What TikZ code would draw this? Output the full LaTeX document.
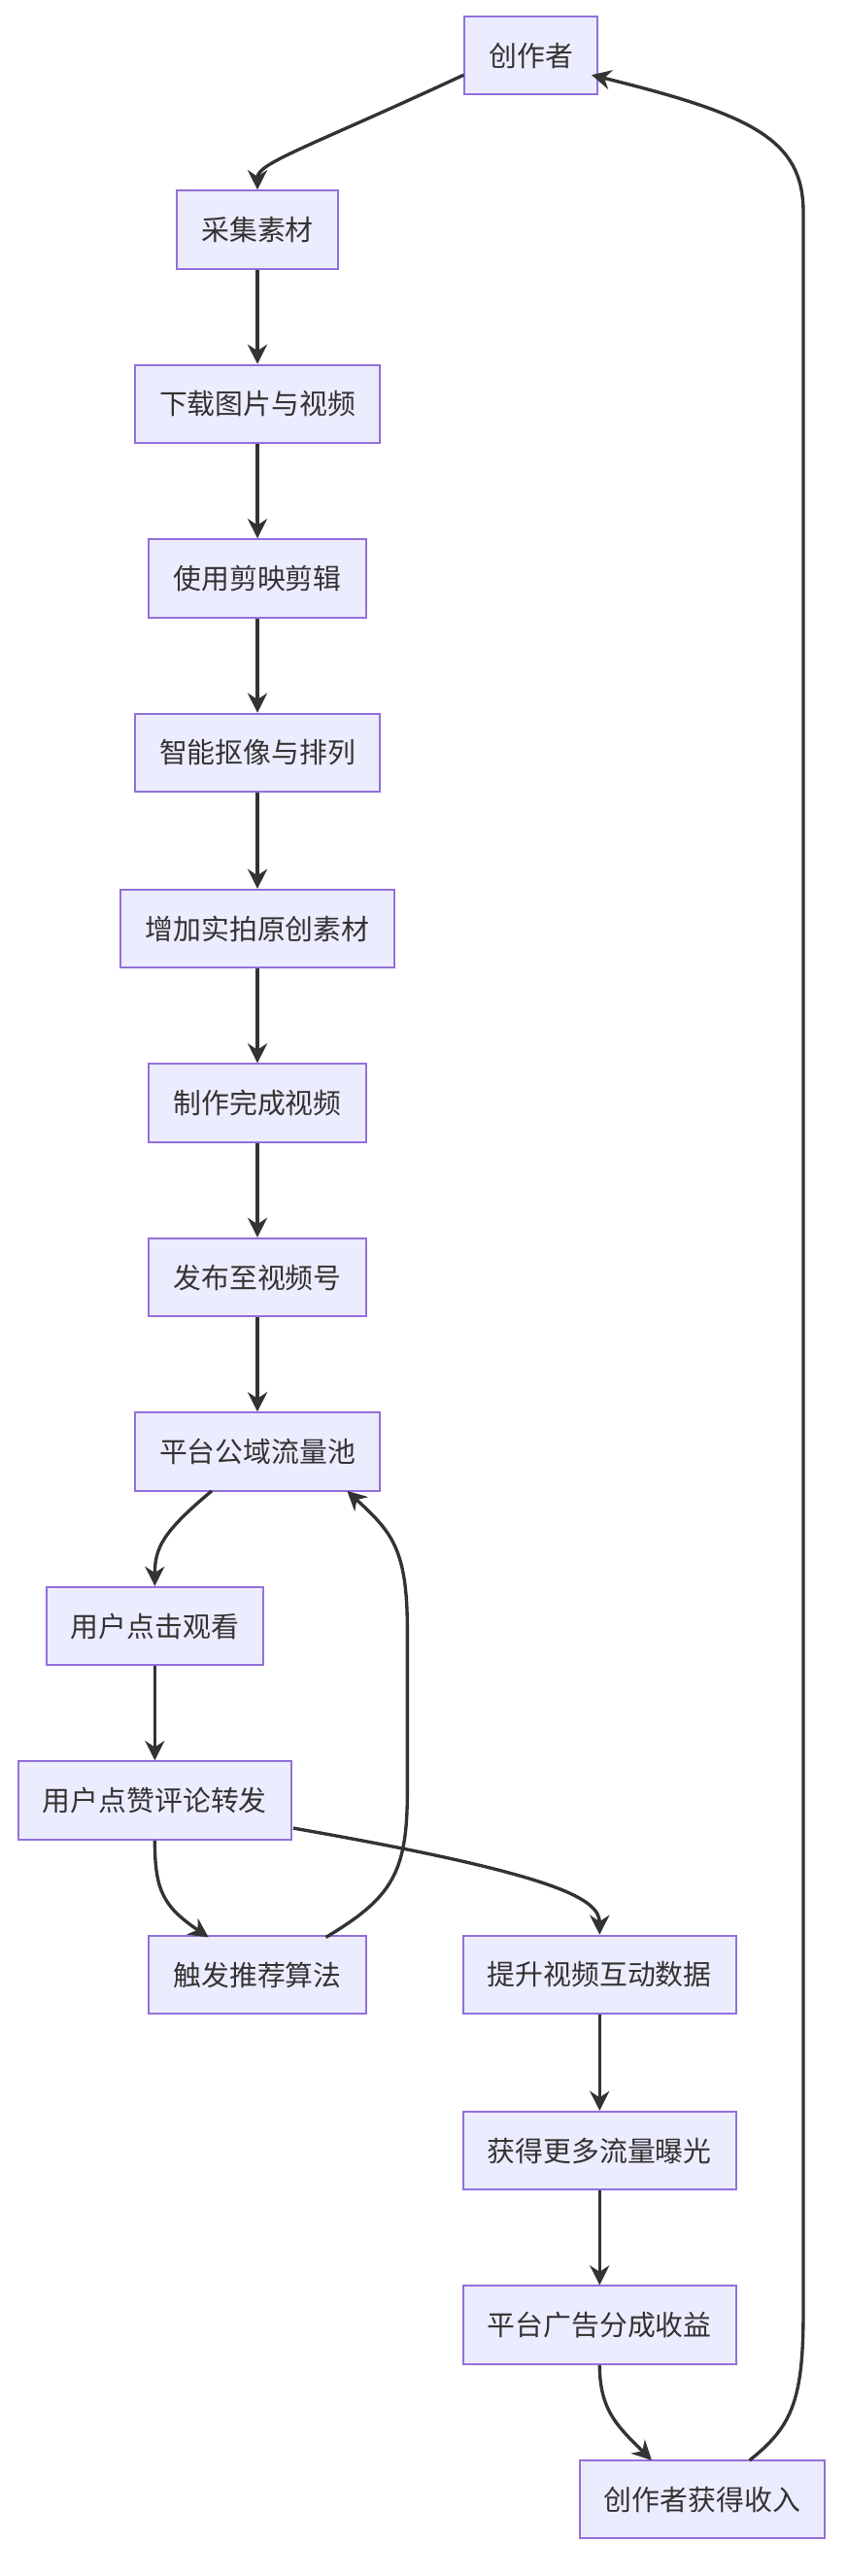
\documentclass[tikz,border=0pt]{standalone}
\usepackage{fontspec}
\newfontfamily\cjk{Noto Sans CJK SC}
\usetikzlibrary{arrows.meta,positioning}
\definecolor{boxfill}{HTML}{ECECFF}
\definecolor{boxline}{HTML}{9370DB}
\definecolor{ink}{HTML}{333333}

\begin{document}
\begin{tikzpicture}[x=0.5pt,y=-0.5pt,>={Stealth[length=6pt,width=6pt]},
                    line width=1pt,
                    stepbox/.style={rectangle,draw=boxline,fill=boxfill,line width=0.6pt,
                      minimum height=24pt,inner xsep=7.5pt,text=ink,
                      font=\cjk\fontsize{8.6pt}{10pt}\selectfont}]
  \useasboundingbox (0,0) rectangle (520,1581);
  \node[stepbox] (author) at (326,34) {创作者};
  \node[stepbox] (collect) at (158,141) {采集素材};
  \node[stepbox] (download) at (158,248) {下载图片与视频};
  \node[stepbox] (edit) at (158,355) {使用剪映剪辑};
  \node[stepbox] (cutout) at (158,462) {智能抠像与排列};
  \node[stepbox] (original) at (158,570) {增加实拍原创素材};
  \node[stepbox] (finish) at (158,677) {制作完成视频};
  \node[stepbox] (publish) at (158,784) {发布至视频号};
  \node[stepbox] (pool) at (158,891) {平台公域流量池};
  \node[stepbox] (watch) at (95,998) {用户点击观看};
  \node[stepbox] (like) at (95,1105) {用户点赞评论转发};
  \node[stepbox] (algo) at (158,1212) {触发推荐算法};
  \node[stepbox] (boost) at (368,1212) {提升视频互动数据};
  \node[stepbox] (expose) at (368,1320) {获得更多流量曝光};
  \node[stepbox] (share) at (368,1427) {平台广告分成收益};
  \node[stepbox] (income) at (431,1534) {创作者获得收入};

  % main chain
  \draw[->,ink] (author.west |- 0,46) .. controls (190,90) and (158,100) .. (collect.north);
  \foreach \a/\b in {collect/download,download/edit,edit/cutout,cutout/original,
                     original/finish,finish/publish,publish/pool,watch/like,
                     boost/expose,expose/share}
    \draw[->,ink] (\a) -- (\b);
  \draw[->,ink] (130,915) .. controls (100,940) and (95,950) .. (watch.north);
  \draw[->,ink] (like.south) .. controls (95,1160) and (100,1170) .. (128,1189);
  \draw[->,ink] (200,1189) .. controls (240,1165) and (250,1150) .. (250,1100)
    -- (250,1000) .. controls (250,950) and (240,940) .. (213,915);
  \draw[->,ink] (180,1122) .. controls (340,1150) and (368,1165) .. (boost.north);
  \draw[->,ink] (share.south) .. controls (368,1480) and (380,1490) .. (400,1510);
  \draw[->,ink] (460,1510) .. controls (485,1490) and (493,1475) .. (493,1420)
    -- (493,130) .. controls (493,85) and (460,70) .. (363,46);
\end{tikzpicture}
\end{document}
